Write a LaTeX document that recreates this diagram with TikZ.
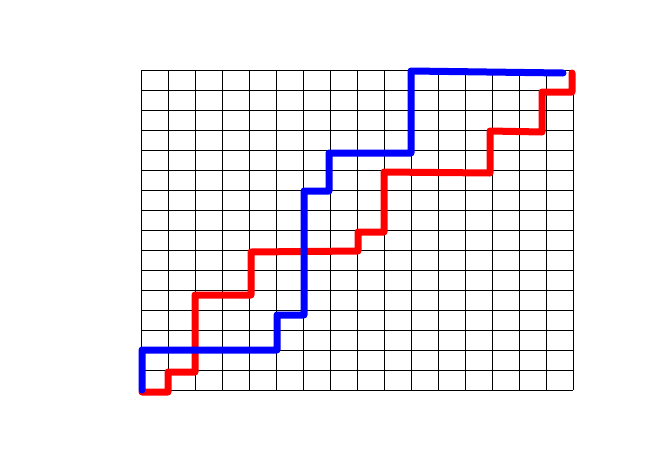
\documentclass[tikz,border=0pt]{standalone}
\begin{document}
\begin{tikzpicture}[x=1pt,y=-1pt,
  gridline/.style={black, line width=0.9pt},
  walk/.style={line width=7pt, line join=round, line cap=round},
  bluewalk/.style={walk, draw={rgb,255:red,0;green,0;blue,255}},
  redwalk/.style={walk, draw={rgb,255:red,255;green,0;blue,0}}]
\useasboundingbox (0,0) rectangle (659,456);
\foreach \i in {0,...,16} {
  \draw[gridline] ({141+27*\i},70) -- ({141+27*\i},390);
  \draw[gridline] (141,{70+20*\i}) -- (573,{70+20*\i});
}
\draw[redwalk] (142,392) -- (168,392) -- (168,372) -- (195,372) -- (195,295) -- (251,295) -- (251,252) -- (358,251) -- (358,232) -- (384,232) -- (384,172) -- (490,173) -- (490,131) -- (542,132) -- (542,92) -- (572,92) -- (572,73);
\draw[bluewalk] (142,390) -- (142,350) -- (277,350) -- (277,315) -- (304,315) -- (304,191) -- (329,191) -- (329,153) -- (411,153) -- (411,71) -- (563,73);
\end{tikzpicture}
\end{document}
